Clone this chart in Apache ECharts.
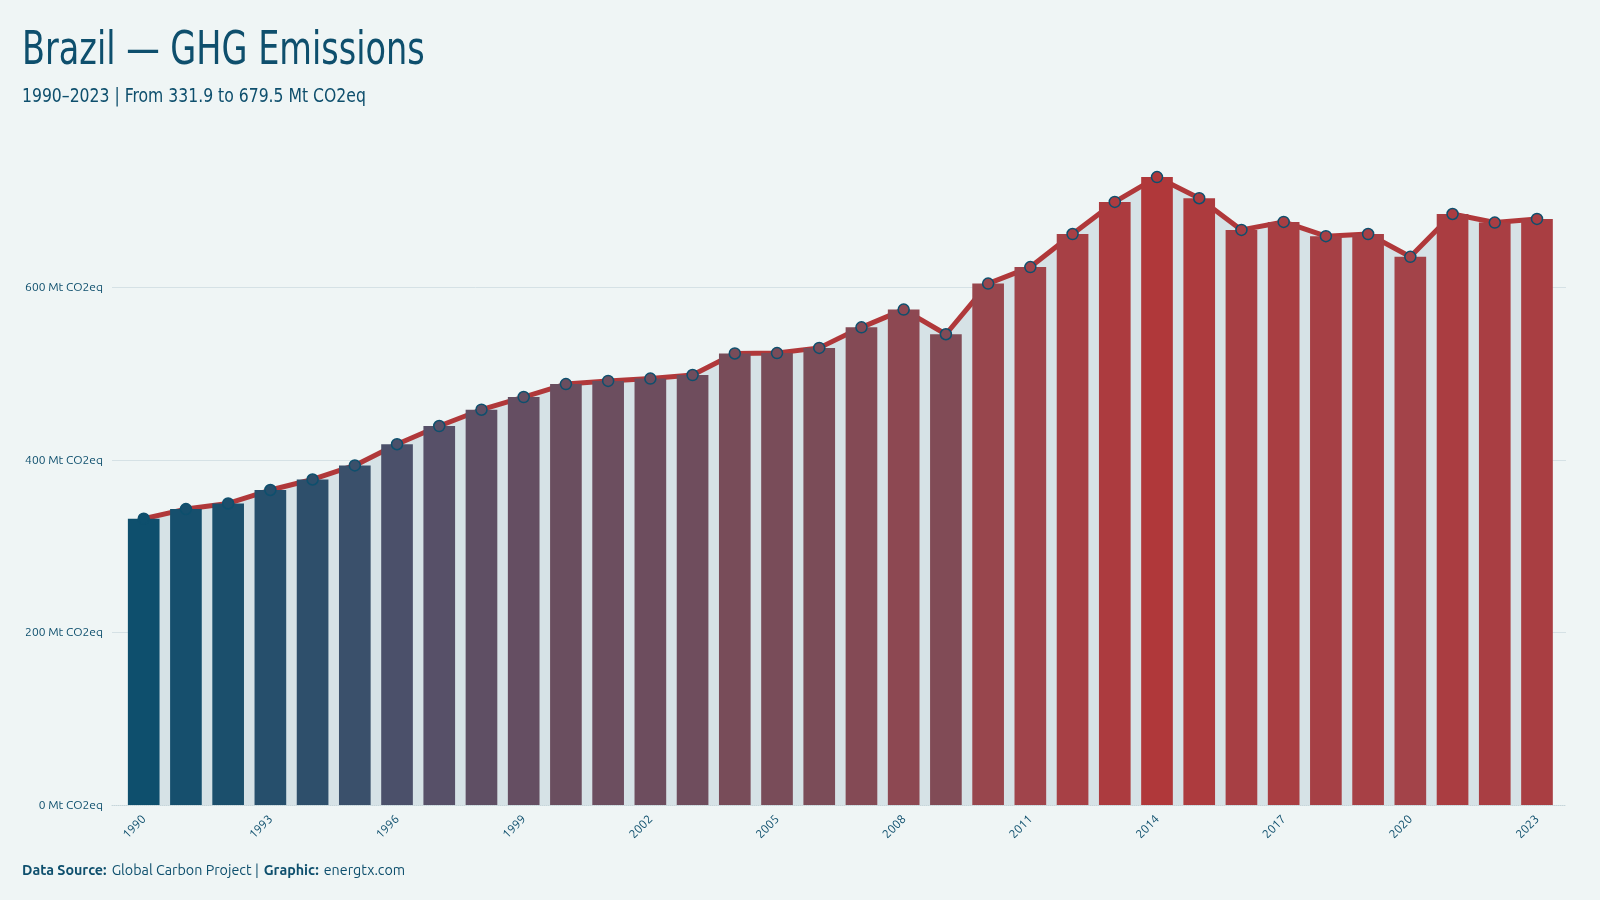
<!DOCTYPE html>
<html>
<head>
<meta charset="utf-8">
<title>Brazil — GHG Emissions</title>
<script src="https://cdn.jsdelivr.net/npm/echarts@6/dist/echarts.min.js"></script>
<style>
  html, body { margin: 0; padding: 0; background: #eff5f5; }
  #chart { width: 1600px; height: 900px; }
</style>
</head>
<body>
<div id="chart"></div>
<script>
// 数据
const years = ['1990', '1991', '1992', '1993', '1994', '1995', '1996', '1997', '1998', '1999',
  '2000', '2001', '2002', '2003', '2004', '2005', '2006', '2007', '2008', '2009',
  '2010', '2011', '2012', '2013', '2014', '2015', '2016', '2017', '2018', '2019',
  '2020', '2021', '2022', '2023']
const emissions = [331.9, 343.1, 349.6, 365.2, 377.4, 393.7, 418.3, 439.4, 458.3, 473.0,
  488.0, 491.7, 494.4, 498.5, 523.5, 524.0, 530.0, 553.8, 574.4, 545.8,
  604.5, 623.7, 662.0, 699.2, 728.0, 703.5, 666.8, 676.0, 659.5, 662.0,
  635.6, 685.2, 675.3, 679.5]
const yTicks = [0, 200, 400, 600]

const dark = '#0e4f6d'
const red = '#b0383a'
// 颜色渐变（蓝 -> 红）
const ramp = [dark, '#545069', '#7b4c58', '#a2444a', red]
const condensed = '"Ubuntu Condensed", "Liberation Sans Narrow", "DejaVu Sans Condensed", sans-serif'
const regular = 'Ubuntu, "Noto Sans", "DejaVu Sans", sans-serif'

const chart = echarts.init(document.getElementById('chart'))

const gridTop = 115
const gridBottom = 95

const option = {
  backgroundColor: '#eff5f5',
  animation: false,
  // 标题用 graphic 文本，横向压窄一点（没有窄体字体）
  graphic: [
    {
      type: 'text',
      x: 22,
      y: 29,
      scaleX: 0.81,
      style: {
        text: 'Brazil — GHG Emissions',
        fill: dark,
        fontFamily: condensed,
        fontSize: 46,
        fontWeight: 'normal',
        verticalAlign: 'top'
      }
    },
    {
      type: 'text',
      x: 22,
      y: 87,
      scaleX: 0.87,
      style: {
        text: '1990–2023 | From 331.9 to 679.5 Mt CO2eq',
        fill: dark,
        fontFamily: condensed,
        fontSize: 20,
        fontWeight: 'normal',
        verticalAlign: 'top'
      }
    }
  ],
  title: [
    {
      text: '{b|Data Source:} {r|Global Carbon Project |} {b|Graphic:} {r|energtx.com}',
      left: 17,
      top: 856,
      textStyle: {
        rich: {
          b: { color: dark, fontFamily: regular, fontSize: 14.3, fontWeight: 'bold' },
          r: { color: dark, fontFamily: regular, fontSize: 14.3, fontWeight: 'normal' }
        }
      }
    }
  ],
  grid: [
    // 背景网格（标签 + 网格线）
    { left: 112, right: 34, top: gridTop, bottom: gridBottom },
    // 数据区域
    { left: 122.6, right: 41.9, top: gridTop, bottom: gridBottom }
  ],
  visualMap: {
    show: false,
    type: 'continuous',
    seriesIndex: [1, 2],
    min: Math.min(...emissions),
    max: Math.max(...emissions),
    inRange: { color: ramp }
  },
  xAxis: [
    {
      gridIndex: 0,
      type: 'value',
      min: 0,
      max: 1,
      axisTick: { show: false },
      axisLabel: { show: false },
      splitLine: { show: false },
      axisLine: { show: true, lineStyle: { color: '#c6d5da', type: 'dotted' } }
    },
    {
      gridIndex: 1,
      type: 'category',
      data: years,
      boundaryGap: true,
      axisTick: { show: false },
      axisLine: { show: false },
      axisLabel: {
        color: dark,
        fontFamily: regular,
        fontSize: 12,
        rotate: 45,
        interval: 2,
        margin: 12
      }
    }
  ],
  yAxis: [
    {
      gridIndex: 0,
      type: 'value',
      min: 0,
      max: 800,
      interval: 200,
      axisLine: { show: false },
      axisTick: { show: false },
      axisLabel: {
        color: dark,
        fontFamily: regular,
        fontSize: 12,
        margin: 9,
        showMaxLabel: false,
        formatter: (v) => (yTicks.includes(v) ? v + ' Mt CO2eq' : '')
      },
      splitLine: {
        lineStyle: { color: ['transparent', '#d5e1e5', '#d5e1e5', '#d5e1e5', 'transparent'], width: 1 }
      }
    },
    {
      gridIndex: 1,
      type: 'value',
      min: 0,
      max: 800,
      show: false,
      splitLine: { show: false }
    }
  ],
  series: [
    {
      // 折线 + 面积（在柱子后面）
      type: 'line',
      xAxisIndex: 1,
      yAxisIndex: 1,
      data: emissions,
      z: 1,
      showSymbol: false,
      lineStyle: { color: red, width: 5 },
      areaStyle: { color: '#d6e2e6', opacity: 1 }
    },
    {
      type: 'bar',
      xAxisIndex: 1,
      yAxisIndex: 1,
      data: emissions,
      z: 2,
      barCategoryGap: '25%'
    },
    {
      // 圆点
      type: 'scatter',
      xAxisIndex: 1,
      yAxisIndex: 1,
      data: emissions,
      z: 3,
      symbolSize: 11,
      itemStyle: { borderColor: dark, borderWidth: 1.5, opacity: 1 }
    }
  ]
}

chart.setOption(option)
</script>
</body>
</html>
